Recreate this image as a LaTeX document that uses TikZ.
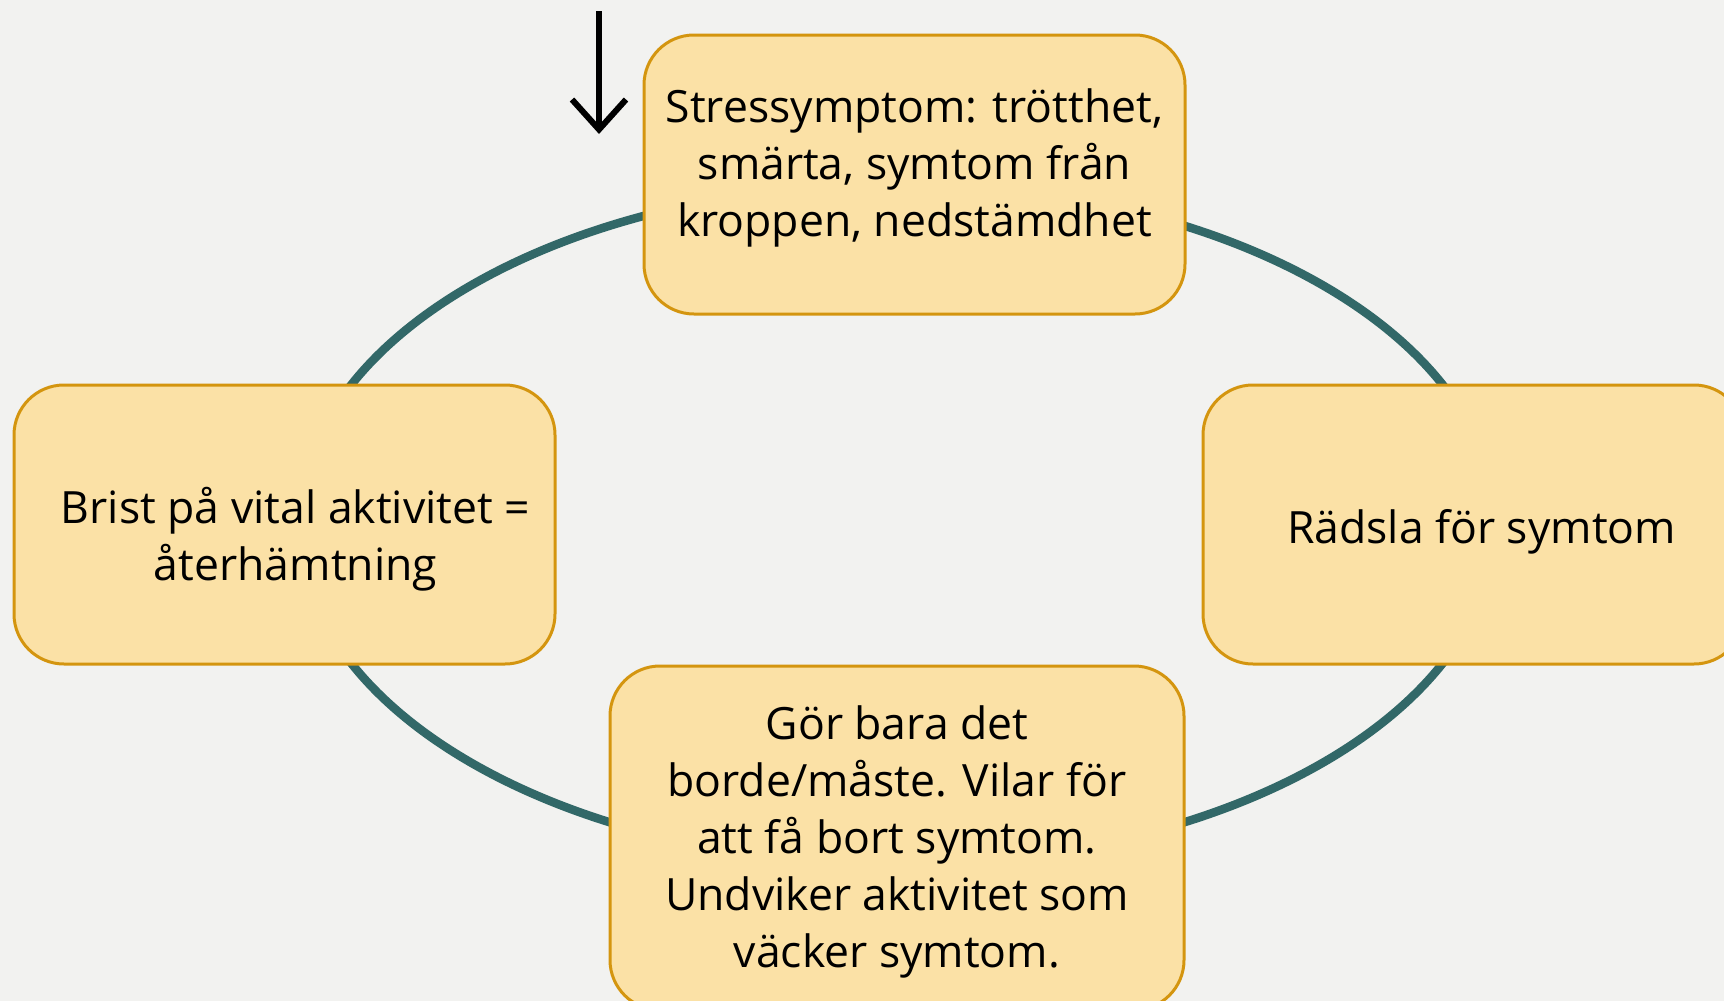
\documentclass[tikz,border=0pt]{standalone}
\usepackage{fontspec}
\setmainfont{Open Sans}
\usetikzlibrary{arrows.meta}
\definecolor{bg}{HTML}{F2F2F0}
\definecolor{boxfill}{HTML}{FBE1A6}
\definecolor{boxline}{HTML}{D4950F}
\definecolor{ring}{HTML}{326868}
\tikzset{
  px/.style={x=1pt,y=-1pt},
  cyclebox/.style={draw=boxline, fill=boxfill, line width=3pt, rounded corners=50pt,
    minimum width=541pt, minimum height=279pt, inner sep=0pt},
  boxtext/.style={align=center, inner sep=0pt, font=\fontsize{44.5}{57}\selectfont},
  ringline/.style={draw=ring, line width=8.5pt},
  inarrow/.style={draw=black, line width=6pt, -{Straight Barb[length=30pt,width=54pt]}}
}
\begin{document}
\begin{tikzpicture}[px]
\fill[bg] (0,0) rectangle (1724,1001);
\useasboundingbox (0,0) rectangle (1724,1001);
\coordinate (c) at (897,524);
\draw[ringline] (c) ellipse [x radius=598pt, y radius=340pt];
\node[cyclebox] (top) at (914.5,174.5) {};
\node[cyclebox] (right) at (1473.5,524.5) {};
\node[cyclebox, minimum width=574pt, minimum height=344pt] (bottom) at (897,838) {};
\node[cyclebox] (left) at (284.5,524.5) {};
\node[boxtext] (toptext) at ([yshift=7pt]top.center) {Stressymptom: trötthet,\\smärta, symtom från\\kroppen, nedstämdhet};
\node[boxtext] (righttext) at ([xshift=8pt,yshift=-7pt]right.center) {Rädsla för symtom};
\node[boxtext] (bottomtext) at ([yshift=-4pt]bottom.center) {Gör bara det\\borde/måste. Vilar för\\att få bort symtom.\\Undviker aktivitet som\\väcker symtom.};
\node[boxtext] (lefttext) at ([xshift=11pt,yshift=-15pt]left.center) {Brist på vital aktivitet =\\återhämtning};
\coordinate (a1) at (599,11);
\coordinate (a2) at (599,134);
\draw[inarrow] (a1) -- (a2);
\end{tikzpicture}
\end{document}
